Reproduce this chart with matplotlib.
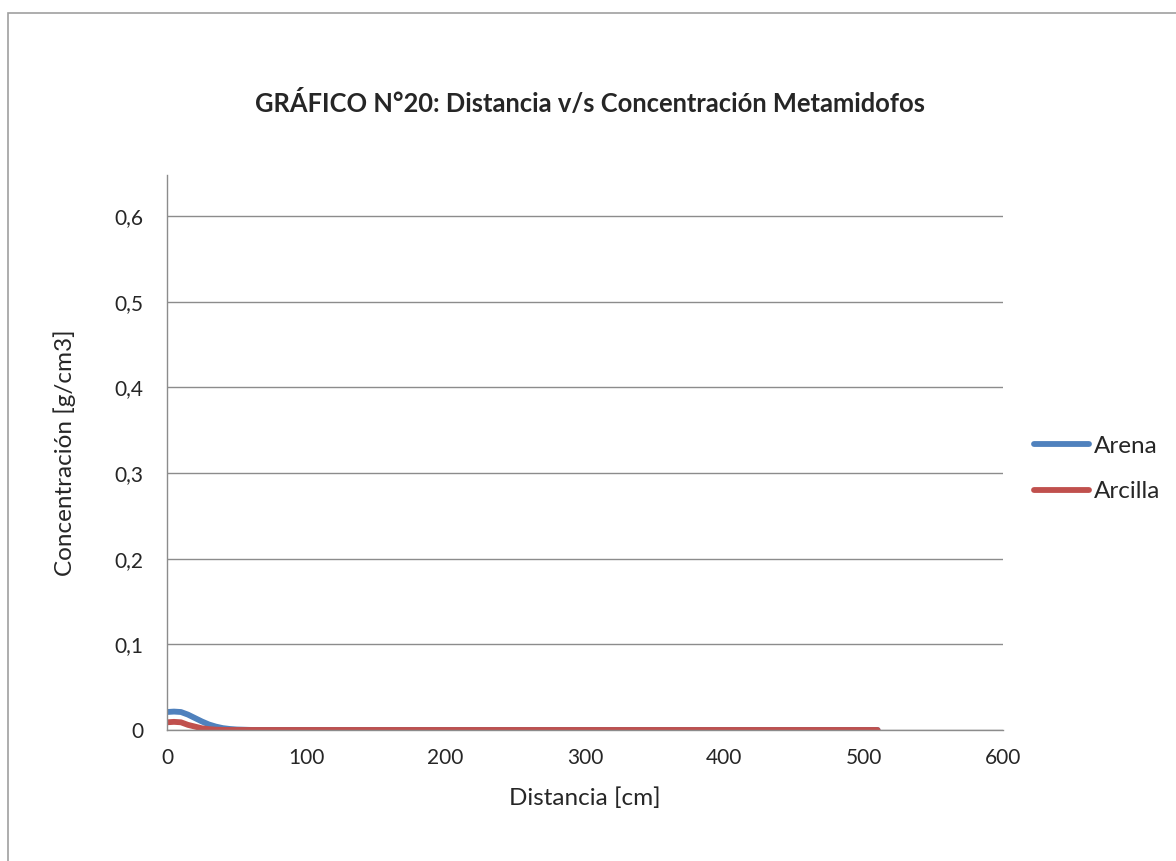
import matplotlib
matplotlib.use("Agg")
from matplotlib import pyplot as plt
from matplotlib.patches import Rectangle

# distances [cm] and concentrations [g/cm3]
dist = [0, 5, 10, 15, 20, 25, 30, 35, 40, 45, 50, 60, 70, 100, 200, 300, 400, 510]
arena = [0.021, 0.0215, 0.021, 0.018, 0.014, 0.010, 0.0065, 0.004, 0.0022, 0.0012,
         0.0006, 0.0001, 0, 0, 0, 0, 0, 0]
arcilla = [0.009, 0.0095, 0.009, 0.006, 0.004, 0.002, 0.001, 0.0004, 0.0001, 0,
           0, 0, 0, 0, 0, 0, 0, 0]

plt.rcParams['font.family'] = ['Lato', 'DejaVu Sans']
txt = '#262626'

fig = plt.figure(figsize=(11.76, 8.61), dpi=100)
fig.patches.append(Rectangle((8/1176, -0.1), 1.2, 1 - 13/861 + 0.1, transform=fig.transFigure,
                             fill=False, edgecolor='#a0a0a0', linewidth=1.2))

ax = fig.add_axes([167/1176, 1 - 730/861, 836/1176, 555/861])
ax.plot(dist, arena, color='#4F81BD', linewidth=4.2, solid_capstyle='round', label='Arena')
ax.plot(dist, arcilla, color='#C0504D', linewidth=4.2, solid_capstyle='round', label='Arcilla')

ax.set_xlim(0, 600)
ax.set_ylim(0, 0.648)
ax.set_xticks(range(0, 601, 100))
ax.set_yticks([0, 0.1, 0.2, 0.3, 0.4, 0.5, 0.6])
ax.set_yticklabels(['0', '0,1', '0,2', '0,3', '0,4', '0,5', '0,6'])
ax.grid(True, axis='y', color='#8c8c8c', linewidth=1)
ax.set_axisbelow(True)
for s in ['top', 'right']:
    ax.spines[s].set_visible(False)
for s in ['left', 'bottom']:
    ax.spines[s].set_color('#8c8c8c')
    ax.spines[s].set_linewidth(1)
ax.tick_params(labelcolor=txt, labelsize=15, length=0)
ax.tick_params(axis='y', pad=17)
ax.tick_params(axis='x', pad=13)

ax.set_xlabel('Distancia [cm]', fontsize=17.5, labelpad=14, color=txt)
ax.set_ylabel('Concentración [g/cm3]', fontsize=17.5, labelpad=28, color=txt)

fig.text(0.502, 1 - 103/861, 'GRÁFICO N°20: Distancia v/s Concentración Metamidofos',
         ha='center', va='center', fontsize=18.4, fontweight='bold', color=txt)

leg = fig.legend(loc='center left', bbox_to_anchor=(1012/1176, 1 - 469/861), frameon=False,
                 fontsize=17.5, handlelength=2.26, handletextpad=0.2, labelspacing=1.0)
for t in leg.get_texts():
    t.set_color(txt)

fig.savefig('out.png', dpi=100)
